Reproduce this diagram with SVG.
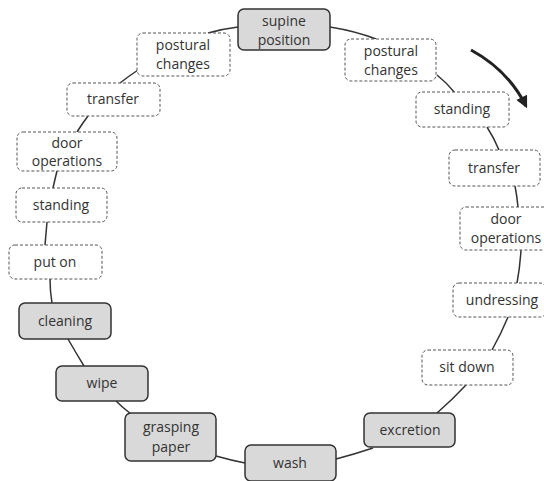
<svg xmlns="http://www.w3.org/2000/svg" width="544" height="481" viewBox="0 0 544 481">
<defs>
<style>
.solid{fill:#d9d9d9;stroke:#333;stroke-width:1.5}
.dash{fill:#fff;stroke:#555;stroke-width:1;stroke-dasharray:3 2}
text{font-family:"Open Sans","Liberation Sans",sans-serif;font-size:14px;fill:#333;text-anchor:middle}
.c{fill:none;stroke:#333;stroke-width:1.5}
</style>
<marker id="ah" viewBox="0 0 10 10" refX="8" refY="5" markerWidth="4.5" markerHeight="4" orient="auto"><path d="M0,0 L10,5 L0,10 z" fill="#222"/></marker>
</defs>
<rect width="544" height="481" fill="#fff"/>
<g id="connectors">
<path class="c" d="M238,27 Q222,29 208,33"/>
<path class="c" d="M330,27 Q355,31 376,39"/>
<path class="c" d="M437,75 Q447,83 455,93"/>
<path class="c" d="M487,127 Q494,138 499,150"/>
<path class="c" d="M515,186 Q517,196 518,207"/>
<path class="c" d="M521,250 Q520,267 517,283"/>
<path class="c" d="M508,317 Q501,334 492,350"/>
<path class="c" d="M466,385 Q452,400 437,413"/>
<path class="c" d="M373,448 Q355,454 336,459"/>
<path class="c" d="M245,463 Q230,460 216,456"/>
<path class="c" d="M131,414 Q123,408 116,401"/>
<path class="c" d="M84,366 Q76,353 68,339"/>
<path class="c" d="M52,303 Q50,291 50,279"/>
<path class="c" d="M45,245 Q46,233 47,222"/>
<path class="c" d="M53,188 Q55,179 57,171"/>
<path class="c" d="M77,132 Q82,124 88,116"/>
<path class="c" d="M120,83 Q129,76 138,70"/>
<path d="M471,50 Q508,70 526,106" fill="none" stroke="#222" stroke-width="3" marker-end="url(#ah)"/>
</g>
<g id="n1"><rect class="solid" x="238" y="9" width="92" height="41" rx="6"/><text x="284" y="26">supine</text><text x="284" y="45">position</text></g>
<g id="n2"><rect class="dash" x="345" y="39" width="91" height="42" rx="6"/><text x="391" y="56">postural</text><text x="391" y="75">changes</text></g>
<g id="n3"><rect class="dash" x="416" y="92" width="93" height="35" rx="6"/><text x="462" y="114">standing</text></g>
<g id="n4"><rect class="dash" x="449" y="150" width="91" height="36" rx="6"/><text x="494" y="173">transfer</text></g>
<g id="n5"><rect class="dash" x="460" y="207" width="93" height="43" rx="6"/><text x="506" y="224">door</text><text x="506" y="243">operations</text></g>
<g id="n6"><rect class="dash" x="453" y="283" width="93" height="34" rx="6"/><text x="502" y="305">undressing</text></g>
<g id="n7"><rect class="dash" x="422" y="350" width="91" height="35" rx="6"/><text x="467" y="372">sit down</text></g>
<g id="n8"><rect class="solid" x="364" y="413" width="91" height="34" rx="6"/><text x="410" y="435">excretion</text></g>
<g id="n9"><rect class="solid" x="245" y="445" width="91" height="36" rx="6"/><text x="290" y="468">wash</text></g>
<g id="n10"><rect class="solid" x="125" y="413" width="91" height="48" rx="6"/><text x="171" y="432">grasping</text><text x="171" y="452">paper</text></g>
<g id="n11"><rect class="solid" x="56" y="366" width="92" height="35" rx="6"/><text x="102" y="388">wipe</text></g>
<g id="n12"><rect class="solid" x="19" y="303" width="92" height="36" rx="6"/><text x="65" y="326">cleaning</text></g>
<g id="n13"><rect class="dash" x="9" y="245" width="93" height="34" rx="6"/><text x="55" y="267">put on</text></g>
<g id="n14"><rect class="dash" x="16" y="188" width="91" height="34" rx="6"/><text x="61" y="210">standing</text></g>
<g id="n15"><rect class="dash" x="17" y="132" width="100" height="39" rx="6"/><text x="67" y="148">door</text><text x="67" y="166">operations</text></g>
<g id="n16"><rect class="dash" x="67" y="83" width="93" height="33" rx="6"/><text x="113" y="104">transfer</text></g>
<g id="n17"><rect class="dash" x="137" y="33" width="93" height="43" rx="6"/><text x="183" y="50">postural</text><text x="183" y="69">changes</text></g>
</svg>
